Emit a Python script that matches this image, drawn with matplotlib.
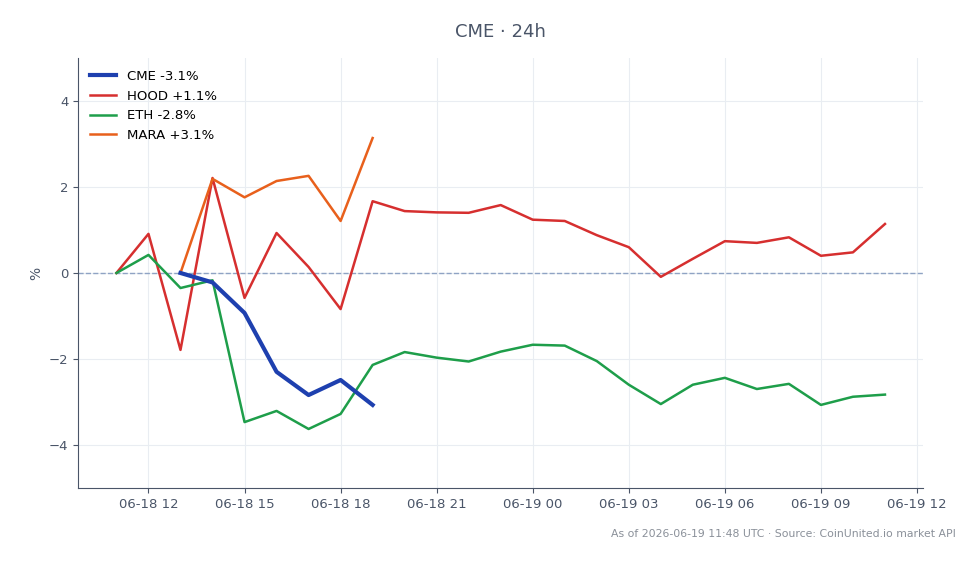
import matplotlib
matplotlib.use('Agg')
import matplotlib.pyplot as plt
import matplotlib.dates as mdates
import pandas as pd

times = pd.date_range('2026-06-18 11:00', '2026-06-19 11:00', freq='h')

hood = [0, 0.91, -1.79, 2.21, -0.58, 0.93, 0.14, -0.84, 1.67, 1.44, 1.41, 1.40, 1.58,
        1.24, 1.21, 0.88, 0.60, -0.09, 0.33, 0.74, 0.70, 0.83, 0.40, 0.48, 1.14]
eth = [0, 0.42, -0.35, -0.17, -3.47, -3.21, -3.63, -3.28, -2.14, -1.84, -1.97, -2.06, -1.83,
       -1.67, -1.69, -2.05, -2.60, -3.05, -2.60, -2.44, -2.70, -2.58, -3.07, -2.88, -2.83]
cme = [0, -0.22, -0.93, -2.30, -2.84, -2.49, -3.07]
mara = [0, 2.19, 1.76, 2.14, 2.26, 1.21, 3.14]
cme_times = times[2:9]
mara_times = times[2:9]

text_col = '#4a5568'

fig = plt.figure(figsize=(9.79, 5.64), dpi=100)
ax = fig.add_axes([0.0797, 0.135, 0.8635, 0.762])

ax.plot(cme_times, cme, color='#1e40af', lw=3, label='CME -3.1%', zorder=5)
ax.plot(times, hood, color='#d62f2f', lw=1.8, label='HOOD +1.1%')
ax.plot(times, eth, color='#1e9e4a', lw=1.8, label='ETH -2.8%')
ax.plot(mara_times, mara, color='#e8601c', lw=1.8, label='MARA +3.1%')
ax.axhline(0, color='#8fa3c4', lw=1, ls='--', zorder=1)

ax.set_ylim(-5, 5)
ax.set_yticks([-4, -2, 0, 2, 4])
ax.xaxis.set_major_locator(mdates.HourLocator(byhour=[0, 3, 6, 9, 12, 15, 18, 21]))
ax.xaxis.set_major_formatter(mdates.DateFormatter('%m-%d %H'))
ax.grid(True, color='#e9edf2', lw=0.8)
ax.set_axisbelow(True)
for s in ['top', 'right']:
    ax.spines[s].set_visible(False)
for s in ['left', 'bottom']:
    ax.spines[s].set_color('#4a5568')
ax.tick_params(colors=text_col, labelsize=9.5)
ax.set_ylabel('%', color=text_col, fontsize=10)

ax.legend(loc='upper left', frameon=False, fontsize=9.5)
fig.text(0.511, 0.943, 'CME · 24h', ha='center', va='center', fontsize=13, color=text_col)
fig.text(0.976, 0.053, 'As of 2026-06-19 11:48 UTC · Source: CoinUnited.io market API',
         ha='right', va='center', fontsize=7.8, color='#8a9099')

fig.savefig('out.png', dpi=100)
